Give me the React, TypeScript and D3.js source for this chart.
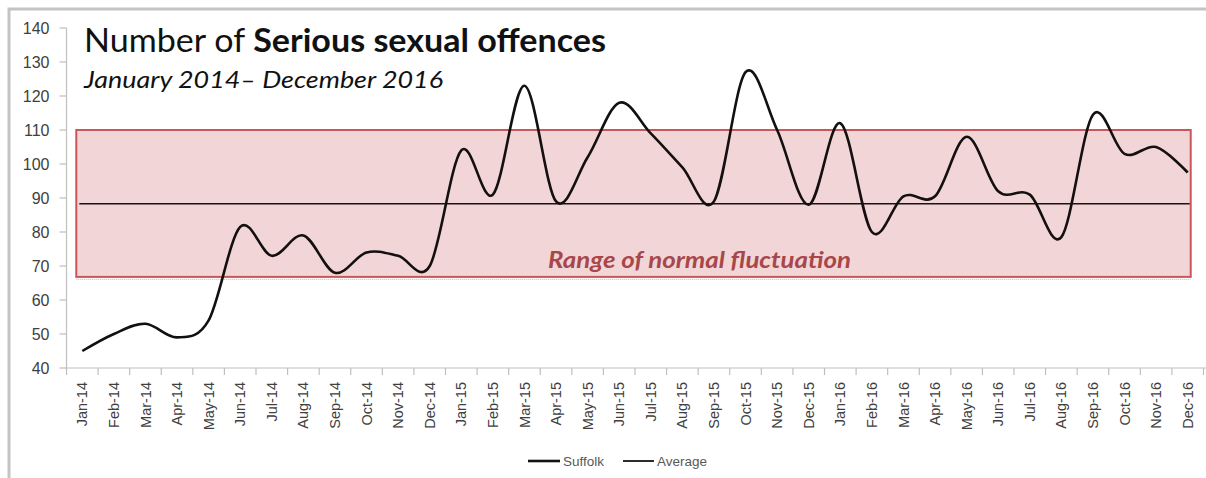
import React from "react";
import * as d3 from "d3";

// monthly counts
const months = [
  "Jan-14", "Feb-14", "Mar-14", "Apr-14", "May-14", "Jun-14", "Jul-14", "Aug-14", "Sep-14", "Oct-14", "Nov-14", "Dec-14",
  "Jan-15", "Feb-15", "Mar-15", "Apr-15", "May-15", "Jun-15", "Jul-15", "Aug-15", "Sep-15", "Oct-15", "Nov-15", "Dec-15",
  "Jan-16", "Feb-16", "Mar-16", "Apr-16", "May-16", "Jun-16", "Jul-16", "Aug-16", "Sep-16", "Oct-16", "Nov-16", "Dec-16"
];
const suffolk = [
  45, 50, 53, 49, 54, 81.5, 73, 79, 68, 74, 73, 70,
  104, 91, 123, 89, 102, 118, 109, 99, 89, 127, 110, 88,
  112, 80, 90.5, 90.5, 108, 92, 91, 78.5, 114.5, 103, 105, 97.5
];
const average = 88.3;
const normalRange = [66.8, 110];
const yTicks = [40, 50, 60, 70, 80, 90, 100, 110, 120, 130, 140];

const W = 1206;
const H = 478;
const plot = { left: 66.5, right: 1203.5, top: 28, bottom: 368 };

const axisColor = "#bfbfbf";
const labelColor = "#404040";
const titleFont = "Lato, 'Open Sans', sans-serif";

export default function App() {
  const x = d3.scaleBand<string>().domain(months).range([plot.left, plot.right]);
  const y = d3.scaleLinear().domain([40, 140]).range([plot.bottom, plot.top]);
  const cx = (m: string) => (x(m) as number) + x.bandwidth() / 2;

  const line = d3
    .line<number>()
    .x((d, i) => cx(months[i]))
    .y(d => y(d))
    .curve(d3.curveCatmullRom.alpha(0));

  const bandX0 = cx(months[0]) - 6;
  const bandX1 = cx(months[months.length - 1]) + 3;

  return (
    <svg
      width={W}
      height={H}
      style={{ position: "absolute", left: 0, top: 0, background: "#fff" }}
      fontFamily="'Liberation Sans', Arial, sans-serif"
    >
      {/* outer frame */}
      <rect x={9} y={9} width={W + 20} height={H + 20} fill="none" stroke="#c4c4c4" strokeWidth={3} />

      {/* range of normal fluctuation */}
      <rect
        x={bandX0}
        y={y(normalRange[1])}
        width={bandX1 - bandX0}
        height={y(normalRange[0]) - y(normalRange[1])}
        fill="#f2d5d7"
        stroke="#c9575a"
        strokeWidth={2}
      />
      <line
        x1={bandX0}
        x2={bandX1}
        y1={y(normalRange[0]) + 2.5}
        y2={y(normalRange[0]) + 2.5}
        stroke="#bbb"
        strokeWidth={1}
        strokeDasharray="1 1"
      />
      <text
        x={548}
        y={y(normalRange[0]) - 9}
        fontFamily={titleFont}
        fontWeight="bold"
        fontStyle="italic"
        fontSize={22}
        textLength={303}
        lengthAdjust="spacingAndGlyphs"
        fill="#a8474a"
      >
        Range of normal fluctuation
      </text>

      {/* average */}
      <line
        x1={cx(months[0]) - 3}
        x2={bandX1 - 1}
        y1={y(average)}
        y2={y(average)}
        stroke="#1a1414"
        strokeWidth={1.6}
      />

      {/* y axis */}
      <line x1={plot.left} x2={plot.left} y1={plot.top} y2={plot.bottom} stroke={axisColor} strokeWidth={1.2} />
      {yTicks.map(t => (
        <g key={t}>
          <line x1={plot.left - 7} x2={plot.left} y1={y(t)} y2={y(t)} stroke={axisColor} strokeWidth={1.2} />
          <text x={plot.left - 17} y={y(t)} dy="0.35em" textAnchor="end" fontSize={16} fill={labelColor}>
            {t}
          </text>
        </g>
      ))}

      {/* x axis */}
      <line x1={plot.left} x2={W} y1={plot.bottom} y2={plot.bottom} stroke={axisColor} strokeWidth={1.2} />
      {d3.range(months.length + 1).map(i => {
        const tx = plot.left + i * x.step();
        return <line key={i} x1={tx} x2={tx} y1={plot.bottom} y2={plot.bottom + 7} stroke={axisColor} strokeWidth={1.2} />;
      })}
      {months.map(m => (
        <text
          key={m}
          transform={`translate(${cx(m)},${plot.bottom + 14}) rotate(-90)`}
          dy="0.35em"
          textAnchor="end"
          fontSize={14.5}
          fill={labelColor}
        >
          {m}
        </text>
      ))}

      {/* Suffolk series */}
      <path d={line(suffolk) || ""} fill="none" stroke="#141010" strokeWidth={2.6} strokeLinejoin="round" />

      {/* title */}
      <text
        x={84}
        y={52}
        fontFamily={titleFont}
        fontSize={32}
        textLength={522}
        lengthAdjust="spacingAndGlyphs"
        fill="#111"
      >
        Number of <tspan fontWeight="bold">Serious sexual offences</tspan>
      </text>
      <text
        x={84}
        y={88}
        fontFamily={titleFont}
        fontStyle="italic"
        fontSize={23}
        textLength={359}
        lengthAdjust="spacingAndGlyphs"
        fill="#111"
      >
        January 2014– December 2016
      </text>

      {/* legend */}
      <g fontSize={13.5} fill="#595959">
        <line x1={528} x2={560} y1={461} y2={461} stroke="#141010" strokeWidth={2.6} />
        <text x={563} y={461} dy="0.35em">Suffolk</text>
        <line x1={623} x2={654} y1={461} y2={461} stroke="#1a1414" strokeWidth={1.8} />
        <text x={657} y={461} dy="0.35em">Average</text>
      </g>
    </svg>
  );
}
